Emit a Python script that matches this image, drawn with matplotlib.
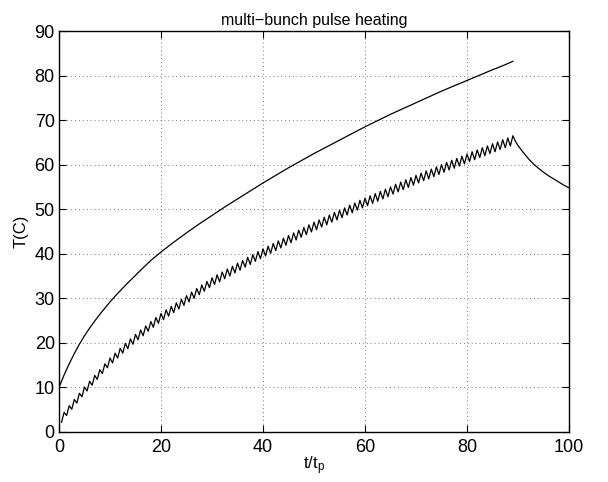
import numpy as np
import matplotlib
matplotlib.use("Agg")
import matplotlib.pyplot as plt

plt.rcParams["font.family"] = ["Liberation Sans", "DejaVu Sans"]
plt.rcParams["mathtext.default"] = "regular"

# ---- data ----
# smooth upper curve (single long pulse)
t_smooth = [0, 0.5, 1, 2, 3, 4, 5, 6, 7, 8, 9, 10, 11.5, 13, 14.5, 16, 18,
            20, 22.5, 25, 27.5, 30, 32.5, 35, 37.5, 40, 42.5, 45, 47.5, 50,
            52.5, 55, 57.5, 60, 62.5, 65, 67.5, 70, 72.5, 75, 77.5, 80, 82.5,
            85, 87, 89]
T_smooth = [10.0, 11.4, 12.8, 15.3, 17.6, 19.7, 21.6, 23.3, 24.9, 26.4, 27.8,
            29.2, 31.1, 32.9, 34.6, 36.3, 38.5, 40.4, 42.6, 44.7, 46.7, 48.6,
            50.5, 52.3, 54.1, 55.9, 57.6, 59.3, 60.9, 62.5, 64.0, 65.5, 67.0,
            68.5, 69.9, 71.3, 72.6, 73.9, 75.2, 76.5, 77.7, 78.9, 80.1, 81.3,
            82.2, 83.2]

# multi-bunch sawtooth: one peak per bunch (t/tp = 1..89), trough just before
pulse_no = np.arange(1, 90)
T_peak = [4.4, 5.9, 7.3, 8.7, 10.1, 11.4, 12.7, 14.0, 15.3, 16.6,
          17.7, 18.8, 19.9, 20.9, 21.9, 22.9, 23.8, 24.8, 25.7, 26.6,
          27.4, 28.2, 29.0, 29.8, 30.6, 31.4, 32.2, 33.0, 33.8, 34.6,
          35.3, 35.9, 36.6, 37.2, 37.9, 38.5, 39.2, 39.8, 40.5, 41.1,
          41.7, 42.3, 42.9, 43.5, 44.1, 44.7, 45.3, 45.9, 46.5, 47.1,
          47.6, 48.2, 48.7, 49.3, 49.8, 50.3, 50.9, 51.4, 52.0, 52.5,
          53.0, 53.5, 54.0, 54.5, 55.0, 55.6, 56.1, 56.6, 57.1, 57.6,
          58.1, 58.6, 59.0, 59.5, 60.0, 60.5, 61.0, 61.4, 61.9, 62.4,
          62.9, 63.3, 63.8, 64.2, 64.7, 65.1, 65.6, 66.0, 66.5]
T_trough = [2.2, 3.7, 5.1, 6.5, 7.9, 9.2, 10.5, 11.8, 13.1, 14.4,
            15.5, 16.6, 17.7, 18.7, 19.7, 20.7, 21.6, 22.6, 23.5, 24.4,
            25.2, 26.0, 26.8, 27.6, 28.4, 29.2, 30.0, 30.8, 31.6, 32.4,
            33.1, 33.7, 34.4, 35.0, 35.7, 36.3, 37.0, 37.6, 38.3, 38.9,
            39.5, 40.1, 40.7, 41.3, 41.9, 42.5, 43.1, 43.7, 44.3, 44.9,
            45.4, 46.0, 46.5, 47.1, 47.6, 48.1, 48.7, 49.2, 49.8, 50.3,
            50.8, 51.3, 51.8, 52.3, 52.8, 53.4, 53.9, 54.4, 54.9, 55.4,
            55.9, 56.4, 56.8, 57.3, 57.8, 58.3, 58.8, 59.2, 59.7, 60.2,
            60.7, 61.1, 61.6, 62.0, 62.5, 62.9, 63.4, 63.8, 64.2]
# cooling after the last bunch
t_tail = [89.5, 90, 91, 92, 93, 94, 95, 96, 97, 98, 99, 100]
T_tail = [65.2, 64.3, 62.8, 61.4, 60.2, 59.2, 58.3, 57.5, 56.8, 56.1, 55.4, 54.8]

# interleave troughs and peaks into one polyline
t_saw = np.column_stack([pulse_no - 0.5, pulse_no]).ravel()
T_saw = np.column_stack([T_trough, T_peak]).ravel()
t_multi = np.concatenate([t_saw, t_tail])
T_multi = np.concatenate([T_saw, T_tail])

fig = plt.figure(figsize=(6.08, 4.82), dpi=100)
ax = fig.add_axes([59 / 608, 50 / 482, 510 / 608, 401 / 482])

ax.plot(t_smooth, T_smooth, color="black", linewidth=0.9)
ax.plot(t_multi, T_multi, color="black", linewidth=0.9)

ax.set_xlim(0, 100)
ax.set_ylim(0, 90)
ax.set_xticks(np.arange(0, 101, 20))
ax.set_yticks(np.arange(0, 91, 10))
ax.tick_params(direction="in", top=True, right=True, length=5, width=0.8,
               labelsize=13)
ax.tick_params(axis="x", pad=5)
ax.tick_params(axis="y", pad=3)
ax.grid(True, linestyle=(0, (1, 3)), color="#777777", linewidth=0.7)
for s in ax.spines.values():
    s.set_linewidth(1.0)

ax.set_xlabel("t/t$_p$", fontsize=12, labelpad=-1)
ax.set_ylabel("T(C)", fontsize=12, labelpad=4)
ax.set_title("multi\u2212bunch pulse heating", fontsize=11.5, pad=4)

fig.savefig("out.png", dpi=100)
